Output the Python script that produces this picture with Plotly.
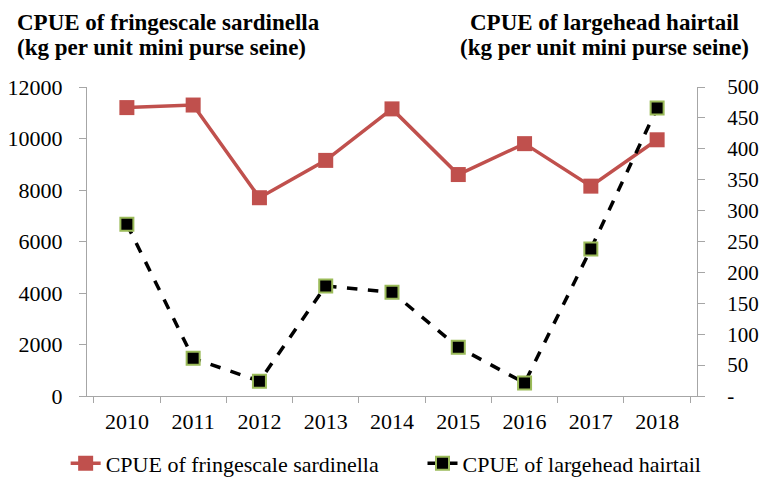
import plotly.graph_objects as go

years = ["2010", "2011", "2012", "2013", "2014", "2015", "2016", "2017", "2018"]
sardinella = [11200, 11300, 7700, 9150, 11150, 8600, 9800, 8150, 9950]
hairtail = [278, 61, 24, 178, 168, 79, 21, 238, 466]
left_ticks = [0, 2000, 4000, 6000, 8000, 10000, 12000]
left_labels = ["0", "2000", "4000", "6000", "8000", "10000", "12000"]
right_ticks = [0, 50, 100, 150, 200, 250, 300, 350, 400, 450, 500]
right_labels = ["-", "50", "100", "150", "200", "250", "300", "350", "400", "450", "500"]

FONT = "Liberation Serif, Tinos, Times New Roman, serif"

fig = go.Figure()
fig.add_trace(go.Scatter(
    x=years, y=sardinella, name="CPUE of fringescale sardinella",
    mode="lines+markers",
    line=dict(color="#c0504d", width=3.5),
    marker=dict(symbol="square", size=15, color="#c0504d", line=dict(color="#c0504d", width=0)),
    yaxis="y", legend="legend",
))
fig.add_trace(go.Scatter(
    x=years, y=hairtail, name="CPUE of largehead hairtail",
    mode="lines+markers",
    line=dict(color="black", width=3.5, dash="dash"),
    marker=dict(symbol="square", size=13, color="black", line=dict(color="#9bbb59", width=2)),
    yaxis="y2", legend="legend2",
))

ann_font = dict(family=FONT, size=23, color="black")
leg_common = dict(orientation="h", xanchor="left", y=-0.15, yanchor="top",
                  font=dict(family=FONT, size=22, color="black"), bgcolor="rgba(0,0,0,0)")
fig.update_layout(
    width=761, height=478,
    margin=dict(l=87, r=64, t=87, b=82, autoexpand=False),
    paper_bgcolor="white", plot_bgcolor="white",
    font=dict(family=FONT, size=22, color="black"),
    showlegend=True,
    legend=dict(x=-0.035, **leg_common),
    legend2=dict(x=0.55, **leg_common),
    xaxis=dict(type="category", showgrid=False, showline=True, linecolor="#a6a6a6",
               linewidth=1, ticks="outside", tickson="boundaries", ticklen=6,
               tickcolor="#a6a6a6", tickfont=dict(family=FONT, size=22), zeroline=False,
               ticklabelstandoff=6),
    yaxis=dict(range=[0, 12000], tickvals=left_ticks, ticktext=left_labels, showgrid=False,
               showline=True, linecolor="#a6a6a6", linewidth=1, ticks="outside", ticklen=7,
               tickcolor="#a6a6a6", tickfont=dict(family=FONT, size=22), zeroline=False,
               ticklabelstandoff=12),
    yaxis2=dict(range=[0, 500], tickvals=right_ticks, ticktext=right_labels,
                overlaying="y", side="right", showgrid=False, showline=True,
                linecolor="#a6a6a6", linewidth=1, ticks="outside", ticklen=7,
                tickcolor="#a6a6a6", tickfont=dict(family=FONT, size=21), zeroline=False,
                ticklabelstandoff=18),
    annotations=[
        dict(text="<b>CPUE of fringescale sardinella</b>", xref="paper", yref="paper",
             x=-0.118, y=1.21, xanchor="left", yanchor="middle", showarrow=False,
             font=ann_font),
        dict(text="<b>(kg per unit mini purse seine)</b>", xref="paper", yref="paper",
             x=-0.118, y=1.129, xanchor="left", yanchor="middle", showarrow=False,
             font=ann_font),
        dict(text="<b>CPUE of largehead hairtail</b>", xref="paper", yref="paper",
             x=0.849, y=1.21, xanchor="center", yanchor="middle", showarrow=False,
             font=ann_font),
        dict(text="<b>(kg per unit mini purse seine)</b>", xref="paper", yref="paper",
             x=0.849, y=1.129, xanchor="center", yanchor="middle", showarrow=False,
             font=ann_font),
    ],
)

fig.write_html("out.html", config={"displayModeBar": False},
               post_script="document.body.style.margin='0';")
